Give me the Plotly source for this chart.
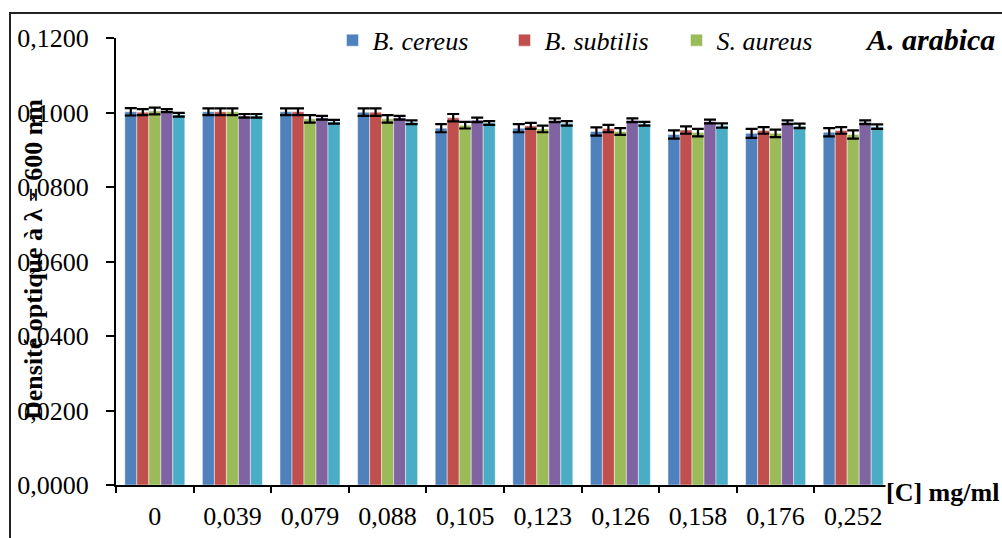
import plotly.graph_objects as go

categories = ["0", "0,039", "0,079", "0,088", "0,105", "0,123", "0,126", "0,158", "0,176", "0,252"]

series_names = ["<i>B. cereus</i>", "<i>B. subtilis</i>", "<i>S. aureus</i>", "Série 4", "Série 5"]
series_colors = ["#4F81BD", "#C0504D", "#9BBB59", "#8064A2", "#4BACC6"]
series_legend = [True, True, True, False, False]

b_cereus = [0.1002, 0.1002, 0.1002, 0.1001, 0.0958, 0.0958, 0.0949, 0.0941, 0.0944, 0.0947]
b_subtilis = [0.1001, 0.1002, 0.1002, 0.1001, 0.0986, 0.0964, 0.0957, 0.0953, 0.0952, 0.0952]
s_aureus = [0.1004, 0.1002, 0.0983, 0.0983, 0.0966, 0.0956, 0.0949, 0.0946, 0.0944, 0.0941]
serie4 = [0.1005, 0.0991, 0.0986, 0.0986, 0.0980, 0.0979, 0.0979, 0.0976, 0.0974, 0.0974]
serie5 = [0.0994, 0.0991, 0.0975, 0.0974, 0.0972, 0.0971, 0.0970, 0.0965, 0.0964, 0.0962]

err_b_cereus = [0.0010, 0.0009, 0.0009, 0.0010, 0.0011, 0.0011, 0.0011, 0.0011, 0.0012, 0.0011]
err_b_subtilis = [0.0008, 0.0009, 0.0009, 0.0010, 0.0010, 0.0008, 0.0010, 0.0010, 0.0009, 0.0009]
err_s_aureus = [0.0009, 0.0009, 0.0010, 0.0010, 0.0009, 0.0009, 0.0009, 0.0010, 0.0010, 0.0011]
err_serie4 = [0.0004, 0.0005, 0.0005, 0.0005, 0.0006, 0.0005, 0.0005, 0.0005, 0.0005, 0.0005]
err_serie5 = [0.0005, 0.0005, 0.0005, 0.0005, 0.0005, 0.0006, 0.0005, 0.0006, 0.0006, 0.0006]

values = [b_cereus, b_subtilis, s_aureus, serie4, serie5]
errors = [err_b_cereus, err_b_subtilis, err_s_aureus, err_serie4, err_serie5]

y_ticks = [0.0, 0.02, 0.04, 0.06, 0.08, 0.10, 0.12]

FONT = "Liberation Serif, Times New Roman, Times, serif"

fig = go.Figure()
for name, col, show, v, e in zip(series_names, series_colors, series_legend, values, errors):
    fig.add_trace(go.Bar(
        x=categories, y=v, name=name, showlegend=show,
        marker=dict(color=col, line=dict(color="rgba(255,255,255,0.45)", width=1)),
        error_y=dict(type="data", array=e, visible=True, color="black", thickness=2.2, width=6),
    ))

fig.update_layout(
    width=1002, height=538,
    margin=dict(l=116, r=110, t=38, b=53),
    paper_bgcolor="white", plot_bgcolor="white",
    separators=", ",
    barmode="group", bargap=0.227, bargroupgap=0,
    font=dict(family=FONT, size=26, color="black"),
    legend=dict(
        orientation="h", x=0.279, xanchor="left", y=0.995, yanchor="middle",
        font=dict(family=FONT, size=26, color="black"),
        bgcolor="rgba(0,0,0,0)", entrywidth=127, entrywidthmode="pixels",
        itemclick=False,
    ),
    xaxis=dict(
        type="category", showline=True, linecolor="black", linewidth=2,
        ticks="outside", ticklen=6, tickwidth=2, tickcolor="black",
        tickson="boundaries", showgrid=False, zeroline=False, ticklabelstandoff=7,
        automargin=False,
        tickfont=dict(family=FONT, size=26, color="black"),
    ),
    yaxis=dict(
        range=[0, 0.12], tickvals=y_ticks, tickformat=".4f",
        showline=True, linecolor="black", linewidth=2,
        ticks="outside", ticklen=8, tickwidth=2, tickcolor="black",
        showgrid=False, zeroline=False, ticklabelstandoff=12,
        automargin=False,
        tickfont=dict(family=FONT, size=26, color="black"),
    ),
    shapes=[dict(
        type="rect", xref="paper", yref="paper",
        x0=(10 - 116) / 776, x1=1.2, y0=-0.3, y1=(485 - 13) / 447,
        line=dict(color="#222222", width=2), fillcolor="rgba(0,0,0,0)", layer="above",
    )],
    annotations=[
        dict(text="<b><i>A. arabica</i></b>", xref="paper", yref="paper",
             x=(930 - 116) / 776, y=(485 - 40) / 447, xanchor="center", yanchor="middle",
             showarrow=False, font=dict(family=FONT, size=30, color="black")),
        dict(text="<b>[C] mg/ml</b>", xref="paper", yref="paper",
             x=(942 - 116) / 776, y=(485 - 492) / 447, xanchor="center", yanchor="middle",
             showarrow=False, bgcolor="white", borderpad=0,
             font=dict(family=FONT, size=26, color="black")),
        dict(text="<b>Densité optique à λ = 600 nm</b>", xref="paper", yref="paper",
             x=(33 - 116) / 776, y=(485 - 260) / 447, xanchor="center", yanchor="middle",
             textangle=-90, showarrow=False, font=dict(family=FONT, size=26, color="black")),
    ],
)

fig.write_html("out.html")
